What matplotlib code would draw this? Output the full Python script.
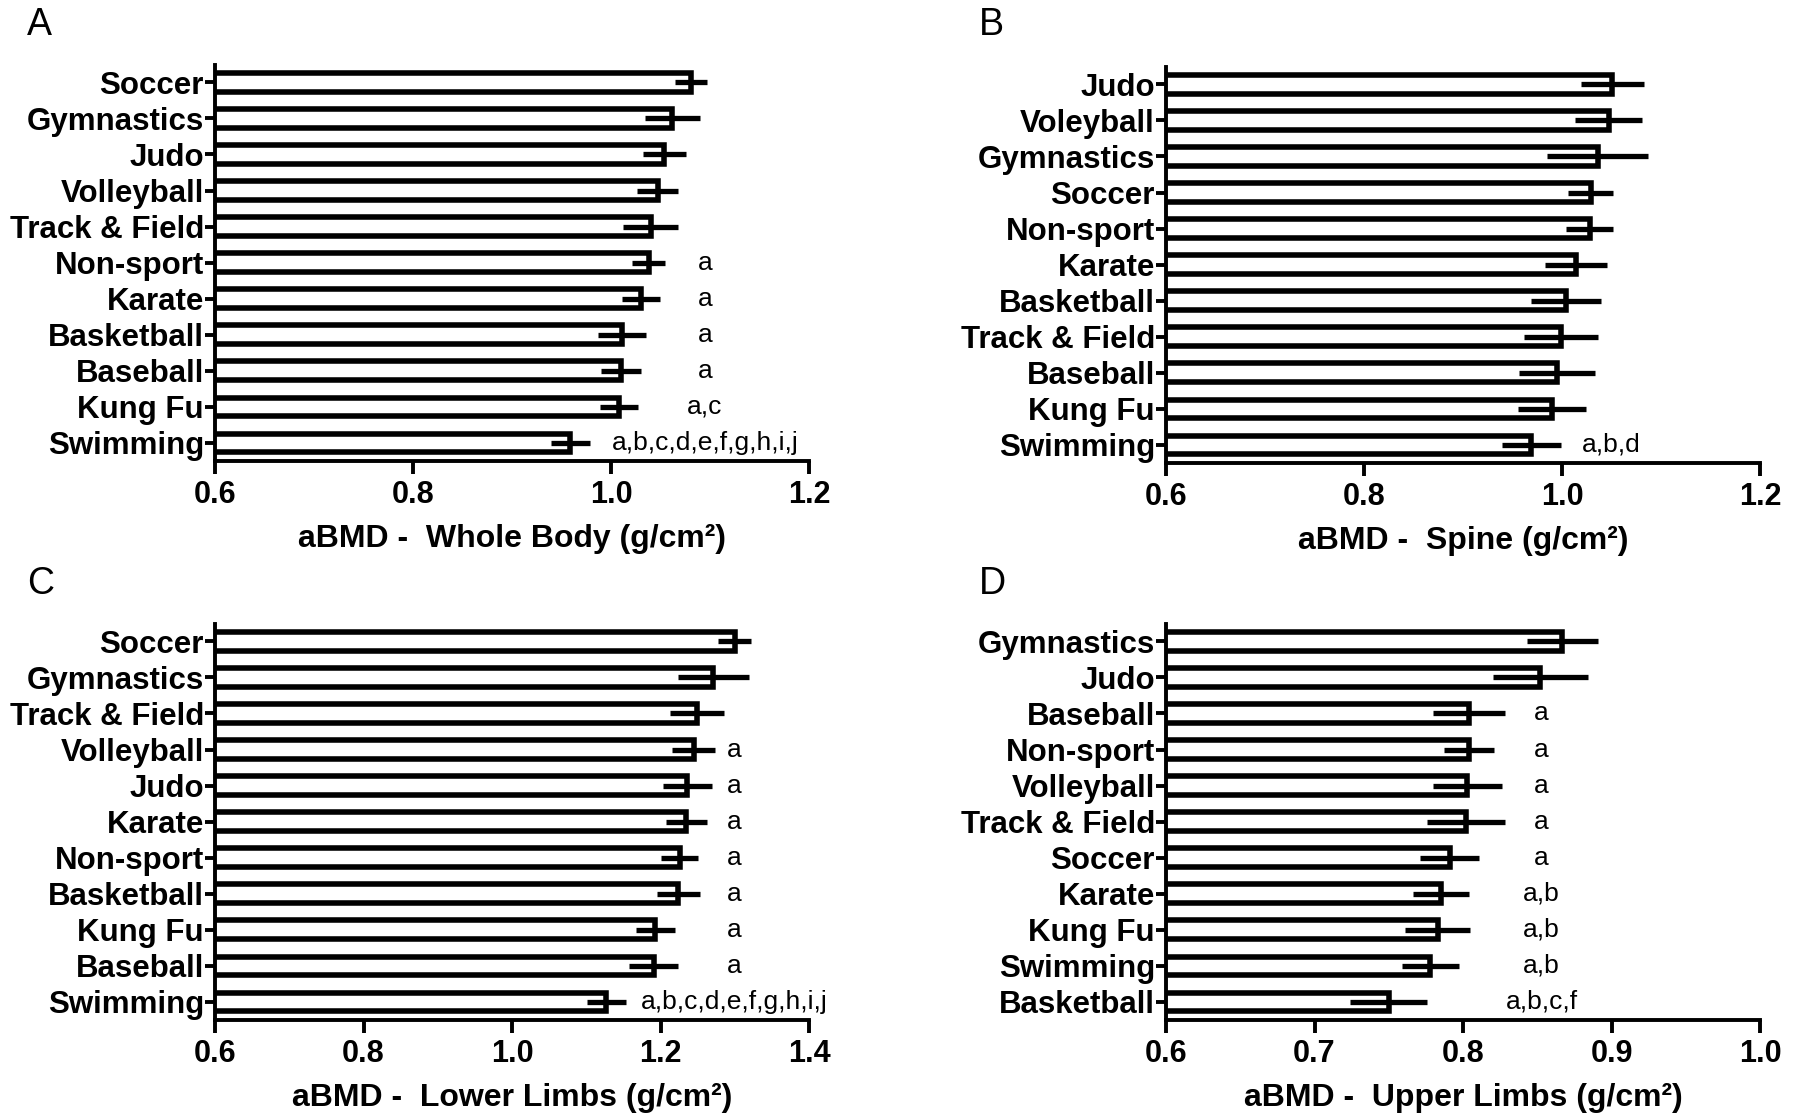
import numpy as np
import matplotlib
matplotlib.use("Agg")
import matplotlib.pyplot as plt

plt.rcParams['font.family'] = ['Liberation Sans', 'DejaVu Sans']

# Panel A - whole body
a_cats = ['Soccer', 'Gymnastics', 'Judo', 'Volleyball', 'Track & Field', 'Non-sport',
          'Karate', 'Basketball', 'Baseball', 'Kung Fu', 'Swimming']
a_vals = [1.081, 1.062, 1.054, 1.047, 1.040, 1.038, 1.030, 1.011, 1.010, 1.008, 0.959]
a_err = [0.016, 0.028, 0.022, 0.021, 0.028, 0.017, 0.019, 0.024, 0.020, 0.019, 0.020]
a_notes = ['', '', '', '', '', 'a', 'a', 'a', 'a', 'a,c', 'a,b,c,d,e,f,g,h,i,j']
a_ticks = [0.6, 0.8, 1.0, 1.2]

# Panel B - spine
b_cats = ['Judo', 'Voleyball', 'Gymnastics', 'Soccer', 'Non-sport', 'Karate',
          'Basketball', 'Track & Field', 'Baseball', 'Kung Fu', 'Swimming']
b_vals = [1.051, 1.047, 1.036, 1.029, 1.028, 1.014, 1.004, 0.999, 0.995, 0.990, 0.969]
b_err = [0.032, 0.034, 0.051, 0.023, 0.024, 0.031, 0.035, 0.037, 0.038, 0.034, 0.030]
b_notes = ['', '', '', '', '', '', '', '', '', '', 'a,b,d']
b_ticks = [0.6, 0.8, 1.0, 1.2]

# Panel C - lower limbs
c_cats = ['Soccer', 'Gymnastics', 'Track & Field', 'Volleyball', 'Judo', 'Karate',
          'Non-sport', 'Basketball', 'Kung Fu', 'Baseball', 'Swimming']
c_vals = [1.300, 1.271, 1.249, 1.245, 1.236, 1.235, 1.226, 1.224, 1.193, 1.191, 1.127]
c_err = [0.022, 0.048, 0.036, 0.029, 0.033, 0.028, 0.025, 0.029, 0.026, 0.033, 0.026]
c_notes = ['', '', '', 'a', 'a', 'a', 'a', 'a', 'a', 'a', 'a,b,c,d,e,f,g,h,i,j']
c_ticks = [0.6, 0.8, 1.0, 1.2, 1.4]

# Panel D - upper limbs
d_cats = ['Gymnastics', 'Judo', 'Baseball', 'Non-sport', 'Volleyball', 'Track & Field',
          'Soccer', 'Karate', 'Kung Fu', 'Swimming', 'Basketball']
d_vals = [0.867, 0.852, 0.804, 0.804, 0.803, 0.802, 0.791, 0.785, 0.783, 0.778, 0.750]
d_err = [0.024, 0.032, 0.024, 0.017, 0.023, 0.026, 0.020, 0.019, 0.022, 0.019, 0.026]
d_notes = ['', '', 'a', 'a', 'a', 'a', 'a', 'a,b', 'a,b', 'a,b', 'a,b,c,f']
d_ticks = [0.6, 0.7, 0.8, 0.9, 1.0]

panels = [
    ('A', a_cats, a_vals, a_err, a_notes, a_ticks, 1.095, 'aBMD -  Whole Body (g/cm²)'),
    ('B', b_cats, b_vals, b_err, b_notes, b_ticks, 1.050, 'aBMD -  Spine (g/cm²)'),
    ('C', c_cats, c_vals, c_err, c_notes, c_ticks, 1.300, 'aBMD -  Lower Limbs (g/cm²)'),
    ('D', d_cats, d_vals, d_err, d_notes, d_ticks, 0.853, 'aBMD -  Upper Limbs (g/cm²)'),
]

W, H = 1796, 1116
fig = plt.figure(figsize=(W / 100, H / 100), dpi=100)

# axes boxes in pixels: left, top, right, bottom
boxes = [(215, 65, 809, 461), (1166, 67, 1760, 463),
         (215, 624, 809, 1020), (1166, 624, 1760, 1020)]
letter_pos = [(27, 25), (979, 25), (27, 584), (979, 584)]

for (letter, cats, vals, err, notes, ticks, note_x, xlabel), box, lp in zip(panels, boxes, letter_pos):
    l, t, r, b = box
    ax = fig.add_axes([l / W, (H - b) / H, (r - l) / W, (b - t) / H])
    y = np.arange(len(cats))
    ax.barh(y, vals, height=0.52, color='white', edgecolor='black', linewidth=4.0, zorder=2)
    ax.errorbar(vals, y, xerr=err, fmt='none', ecolor='black', elinewidth=3.8,
                capsize=0, zorder=3)
    for yi, note in zip(y, notes):
        if note:
            ax.text(note_x, yi, note, ha='center', va='center', fontsize=19)
    ax.set_xlim(ticks[0], ticks[-1])
    ax.set_ylim(len(cats) - 0.5, -0.48)
    ax.set_yticks(y)
    ax.set_yticklabels(cats, fontsize=22.5, fontweight='bold')
    ax.set_xticks(ticks)
    ax.set_xticklabels([f'{v:.1f}' for v in ticks], fontsize=22, fontweight='bold')
    ax.set_xlabel(xlabel, fontsize=23, fontweight='bold', labelpad=10)
    for s in ['top', 'right']:
        ax.spines[s].set_visible(False)
    for s in ['left', 'bottom']:
        ax.spines[s].set_linewidth(2.8)
    ax.tick_params(axis='y', length=7, width=2.8, pad=1)
    ax.tick_params(axis='x', length=9, width=2.8, pad=5)
    fig.text(lp[0] / W, 1 - lp[1] / H, letter, fontsize=27, ha='left', va='center')

fig.savefig('out.png', dpi=100)
